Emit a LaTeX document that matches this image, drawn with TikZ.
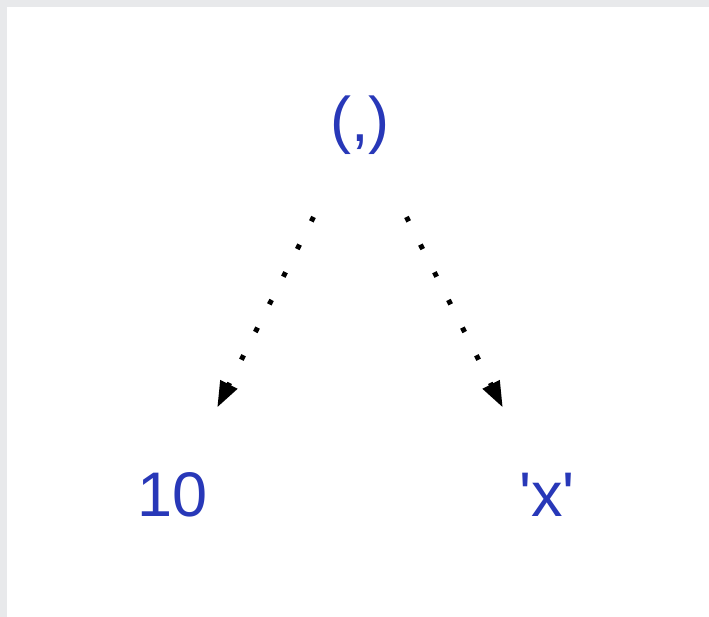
\documentclass[tikz,border=0pt]{standalone}
\usepackage{fontspec}
\setmainfont{Liberation Sans}
\usetikzlibrary{arrows.meta}
\definecolor{txtblue}{HTML}{2838B8}
\definecolor{framegray}{HTML}{E8E9EB}
\begin{document}
\begin{tikzpicture}[x=1pt,y=-1pt,
  lbl/.style={inner sep=0pt, text=txtblue, font=\fontsize{63}{63}\selectfont},
  dotarrow/.style={line width=5pt, dash pattern=on 5pt off 26pt,
    -{Triangle[length=26pt,width=18pt]}}]
\useasboundingbox (0,0) rectangle (709,617);
\fill[framegray] (0,0) rectangle (709,617);
\fill[white] (7,7) rectangle (709,617);
\node[lbl] (t) at (360,125) {(,)};
\node[lbl] (l) at (173,495) {10};
\node[lbl] (r) at (547,495) {\textquotesingle x\textquotesingle};
\draw[dotarrow, shorten <=103pt, shorten >=98pt] (t.center) -- (l.center);
\draw[dotarrow, shorten <=103pt, shorten >=98pt] (t.center) -- (r.center);
\end{tikzpicture}
\end{document}
